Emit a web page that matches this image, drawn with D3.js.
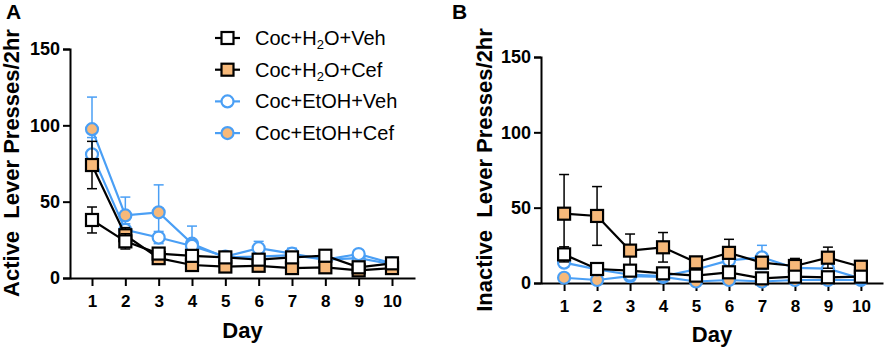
<!DOCTYPE html>
<html>
<head>
<meta charset="utf-8">
<script src="https://cdn.jsdelivr.net/npm/d3@7"></script>
<style>
  body { margin: 0; background: #fff; }
  svg { display: block; font-family: "Liberation Sans", Arial, Helvetica, sans-serif; }
</style>
</head>
<body>
<svg id="chart" width="886" height="349"></svg>
<script>
// Data
const days = [1, 2, 3, 4, 5, 6, 7, 8, 9, 10];
const yTicks = [0, 50, 100, 150];

// Panel A - active lever presses (mean, SEM)
const activeH2OVeh     = [38, 24, 16, 14.5, 13.5, 12, 13.5, 14.6, 7, 9.6];
const activeH2OVehSem  = [8.5, 5, 3, 3, 2.5, 2.5, 2.5, 2.5, 2, 2];
const activeH2OCef     = [74, 28, 13, 8.5, 7.5, 8, 6.5, 7, 5, 6.5];
const activeH2OCefSem  = [15.5, 5, 2, 2, 2, 2, 1.5, 2, 1.5, 1.5];
const activeEtOHVeh    = [81, 31.5, 26.5, 21, 14, 19.5, 16, 12, 15.7, 9.6];
const activeEtOHVehSem = [11, 4, 4, 4, 2, 4.5, 3.5, 2.5, 2.5, 2];
const activeEtOHCef    = [97.5, 41, 43, 22.5, 13.5, 14, 15, 12, 13, 9];
const activeEtOHCefSem = [21, 12, 18, 11.5, 2, 2, 3.5, 2, 2, 2];

// Panel B - inactive lever presses (mean, SEM)
const inactH2OVeh      = [19, 9.3, 8.2, 6.4, 4.9, 7.1, 3.1, 4.2, 3.8, 4.2];
const inactH2OVehSem   = [5, 2, 2, 2, 2, 2.5, 1.5, 1.5, 1.5, 1.5];
const inactH2OCef      = [46, 44.5, 21.5, 23.7, 13.7, 20, 13.5, 11.3, 16.8, 10.8];
const inactH2OCefSem   = [26, 19.5, 11, 9.8, 3, 9, 3, 5, 7, 2];
const inactEtOHVeh     = [13.5, 9, 5.5, 4.5, 9, 15, 17, 10, 9.5, 3];
const inactEtOHVehSem  = [3, 2, 1.5, 1.5, 2, 2.5, 8, 2, 2, 1];
const inactEtOHCef     = [3.5, 2, 4.5, 4, 1, 2, 1, 2, 2, 2];
const inactEtOHCefSem  = [1, 1, 1, 1, 0.5, 0.5, 0.5, 0.5, 0.5, 0.5];

const BLUE = '#4a9ff5';
const ORANGE = '#f7b97a';

// series styles (drawing order: blue first, black on top)
const seriesStyle = [
  { key: 'EtOHCef', name: 'Coc+EtOH+Cef', shape: 'circle', stroke: BLUE, fill: ORANGE },
  { key: 'EtOHVeh', name: 'Coc+EtOH+Veh', shape: 'circle', stroke: BLUE, fill: '#fff' },
  { key: 'H2OCef',  name: 'Coc+H2O+Cef',  shape: 'square', stroke: '#000', fill: ORANGE },
  { key: 'H2OVeh',  name: 'Coc+H2O+Veh',  shape: 'square', stroke: '#000', fill: '#fff' }
];

const panels = [
  {
    letter: 'A', title: 'Active  Lever Presses/2hr',
    x0: 70, x1: 415, y0: 278, y1: 49, dom: [0.34, 10.69],
    titleX: 19, titleY: 163, letterX: 6, letterY: 19, tickY: 307, dayY: 338,
    data: {
      H2OVeh: [activeH2OVeh, activeH2OVehSem], H2OCef: [activeH2OCef, activeH2OCefSem],
      EtOHVeh: [activeEtOHVeh, activeEtOHVehSem], EtOHCef: [activeEtOHCef, activeEtOHCefSem]
    }
  },
  {
    letter: 'B', title: 'Inactive  Lever Presses/2hr',
    x0: 541, x1: 883, y0: 283, y1: 57, dom: [0.30, 10.67],
    titleX: 492, titleY: 170, letterX: 452, letterY: 19, tickY: 312, dayY: 342,
    data: {
      H2OVeh: [inactH2OVeh, inactH2OVehSem], H2OCef: [inactH2OCef, inactH2OCefSem],
      EtOHVeh: [inactEtOHVeh, inactEtOHVehSem], EtOHCef: [inactEtOHCef, inactEtOHCefSem]
    }
  }
];

const svg = d3.select('#chart');

function drawMarker(g, shape, cx, cy, stroke, fill) {
  if (shape === 'square') {
    g.append('rect')
      .attr('x', cx - 6).attr('y', cy - 6)
      .attr('width', 12).attr('height', 12)
      .attr('fill', fill).attr('stroke', stroke).attr('stroke-width', 2.2);
  } else {
    g.append('circle')
      .attr('cx', cx).attr('cy', cy).attr('r', 6)
      .attr('fill', fill).attr('stroke', stroke).attr('stroke-width', 2.2);
  }
}

panels.forEach(p => {
  const x = d3.scaleLinear().domain(p.dom).range([p.x0, p.x1]);
  const y = d3.scaleLinear().domain([0, 150]).range([p.y0, p.y1]);
  const g = svg.append('g');

  // y axis
  const yAxis = g.append('g')
    .attr('transform', `translate(${p.x0},0)`)
    .call(d3.axisLeft(y).tickValues(yTicks).tickSize(7).tickPadding(3).tickFormat(d3.format('d')));
  yAxis.select('.domain').attr('stroke', '#000').attr('stroke-width', 2);
  yAxis.selectAll('.tick line').attr('stroke-width', 2);
  yAxis.selectAll('.tick text')
    .attr('font-size', 18).attr('font-weight', 'bold').attr('fill', '#000')
    .attr('font-family', '"Liberation Sans", Arial, sans-serif');

  // x axis
  const xAxis = g.append('g')
    .attr('transform', `translate(0,${p.y0})`)
    .call(d3.axisBottom(x).tickValues(days).tickSize(8).tickSizeOuter(0).tickFormat(d3.format('d')));
  xAxis.select('.domain').attr('stroke', '#000').attr('stroke-width', 2);
  xAxis.selectAll('.tick line').attr('stroke-width', 2);
  xAxis.selectAll('.tick text')
    .attr('y', null).attr('dy', null)
    .attr('transform', `translate(0,${p.tickY - p.y0})`)
    .attr('font-size', 17).attr('font-weight', 'bold').attr('fill', '#000')
    .attr('font-family', '"Liberation Sans", Arial, sans-serif');

  // titles
  g.append('text')
    .attr('x', (p.x0 + p.x1) / 2).attr('y', p.dayY)
    .attr('text-anchor', 'middle').attr('font-size', 22).attr('font-weight', 'bold')
    .text('Day');
  g.append('text')
    .attr('transform', `translate(${p.titleX},${p.titleY}) rotate(-90)`)
    .attr('text-anchor', 'middle').attr('font-size', 22).attr('font-weight', 'bold')
    .attr('xml:space', 'preserve').style('white-space', 'pre')
    .text(p.title);
  g.append('text')
    .attr('x', p.letterX).attr('y', p.letterY)
    .attr('font-size', 21).attr('font-weight', 'bold')
    .text(p.letter);

  // series
  seriesStyle.forEach(s => {
    const [vals, sem] = p.data[s.key];
    const sg = g.append('g');
    // error bars
    days.forEach((d, i) => {
      const cx = x(d);
      const top = y(vals[i] + sem[i]);
      const bot = y(Math.max(0, vals[i] - sem[i]));
      sg.append('line').attr('x1', cx).attr('x2', cx).attr('y1', top).attr('y2', bot)
        .attr('stroke', s.stroke).attr('stroke-width', 1.5);
      [top, bot].forEach(yy => {
        sg.append('line').attr('x1', cx - 5).attr('x2', cx + 5).attr('y1', yy).attr('y2', yy)
          .attr('stroke', s.stroke).attr('stroke-width', 1.5);
      });
    });
    // line
    sg.append('path')
      .datum(vals)
      .attr('d', d3.line().x((v, i) => x(days[i])).y(v => y(v)))
      .attr('fill', 'none').attr('stroke', s.stroke).attr('stroke-width', 2.2);
    // markers
    vals.forEach((v, i) => drawMarker(sg, s.shape, x(days[i]), y(v), s.stroke, s.fill));
  });
});

// Legend (panel A)
const legendOrder = ['H2OVeh', 'H2OCef', 'EtOHVeh', 'EtOHCef'];
const legend = svg.append('g');
legendOrder.forEach((k, i) => {
  const s = seriesStyle.find(d => d.key === k);
  const ly = 38 + i * 31.7;
  legend.append('line').attr('x1', 215).attr('x2', 240).attr('y1', ly).attr('y2', ly)
    .attr('stroke', s.stroke).attr('stroke-width', 2.2);
  drawMarker(legend, s.shape, 227.5, ly, s.stroke, s.fill);
  const t = legend.append('text').attr('x', 255).attr('y', ly + 7).attr('font-size', 20);
  if (k.startsWith('H2O')) {
    t.append('tspan').text('Coc+H');
    t.append('tspan').attr('font-size', 13).attr('dy', 4).text('2');
    t.append('tspan').attr('dy', -4).text('O+' + s.name.split('+')[2]);
  } else {
    t.text(s.name);
  }
});
</script>
</body>
</html>
